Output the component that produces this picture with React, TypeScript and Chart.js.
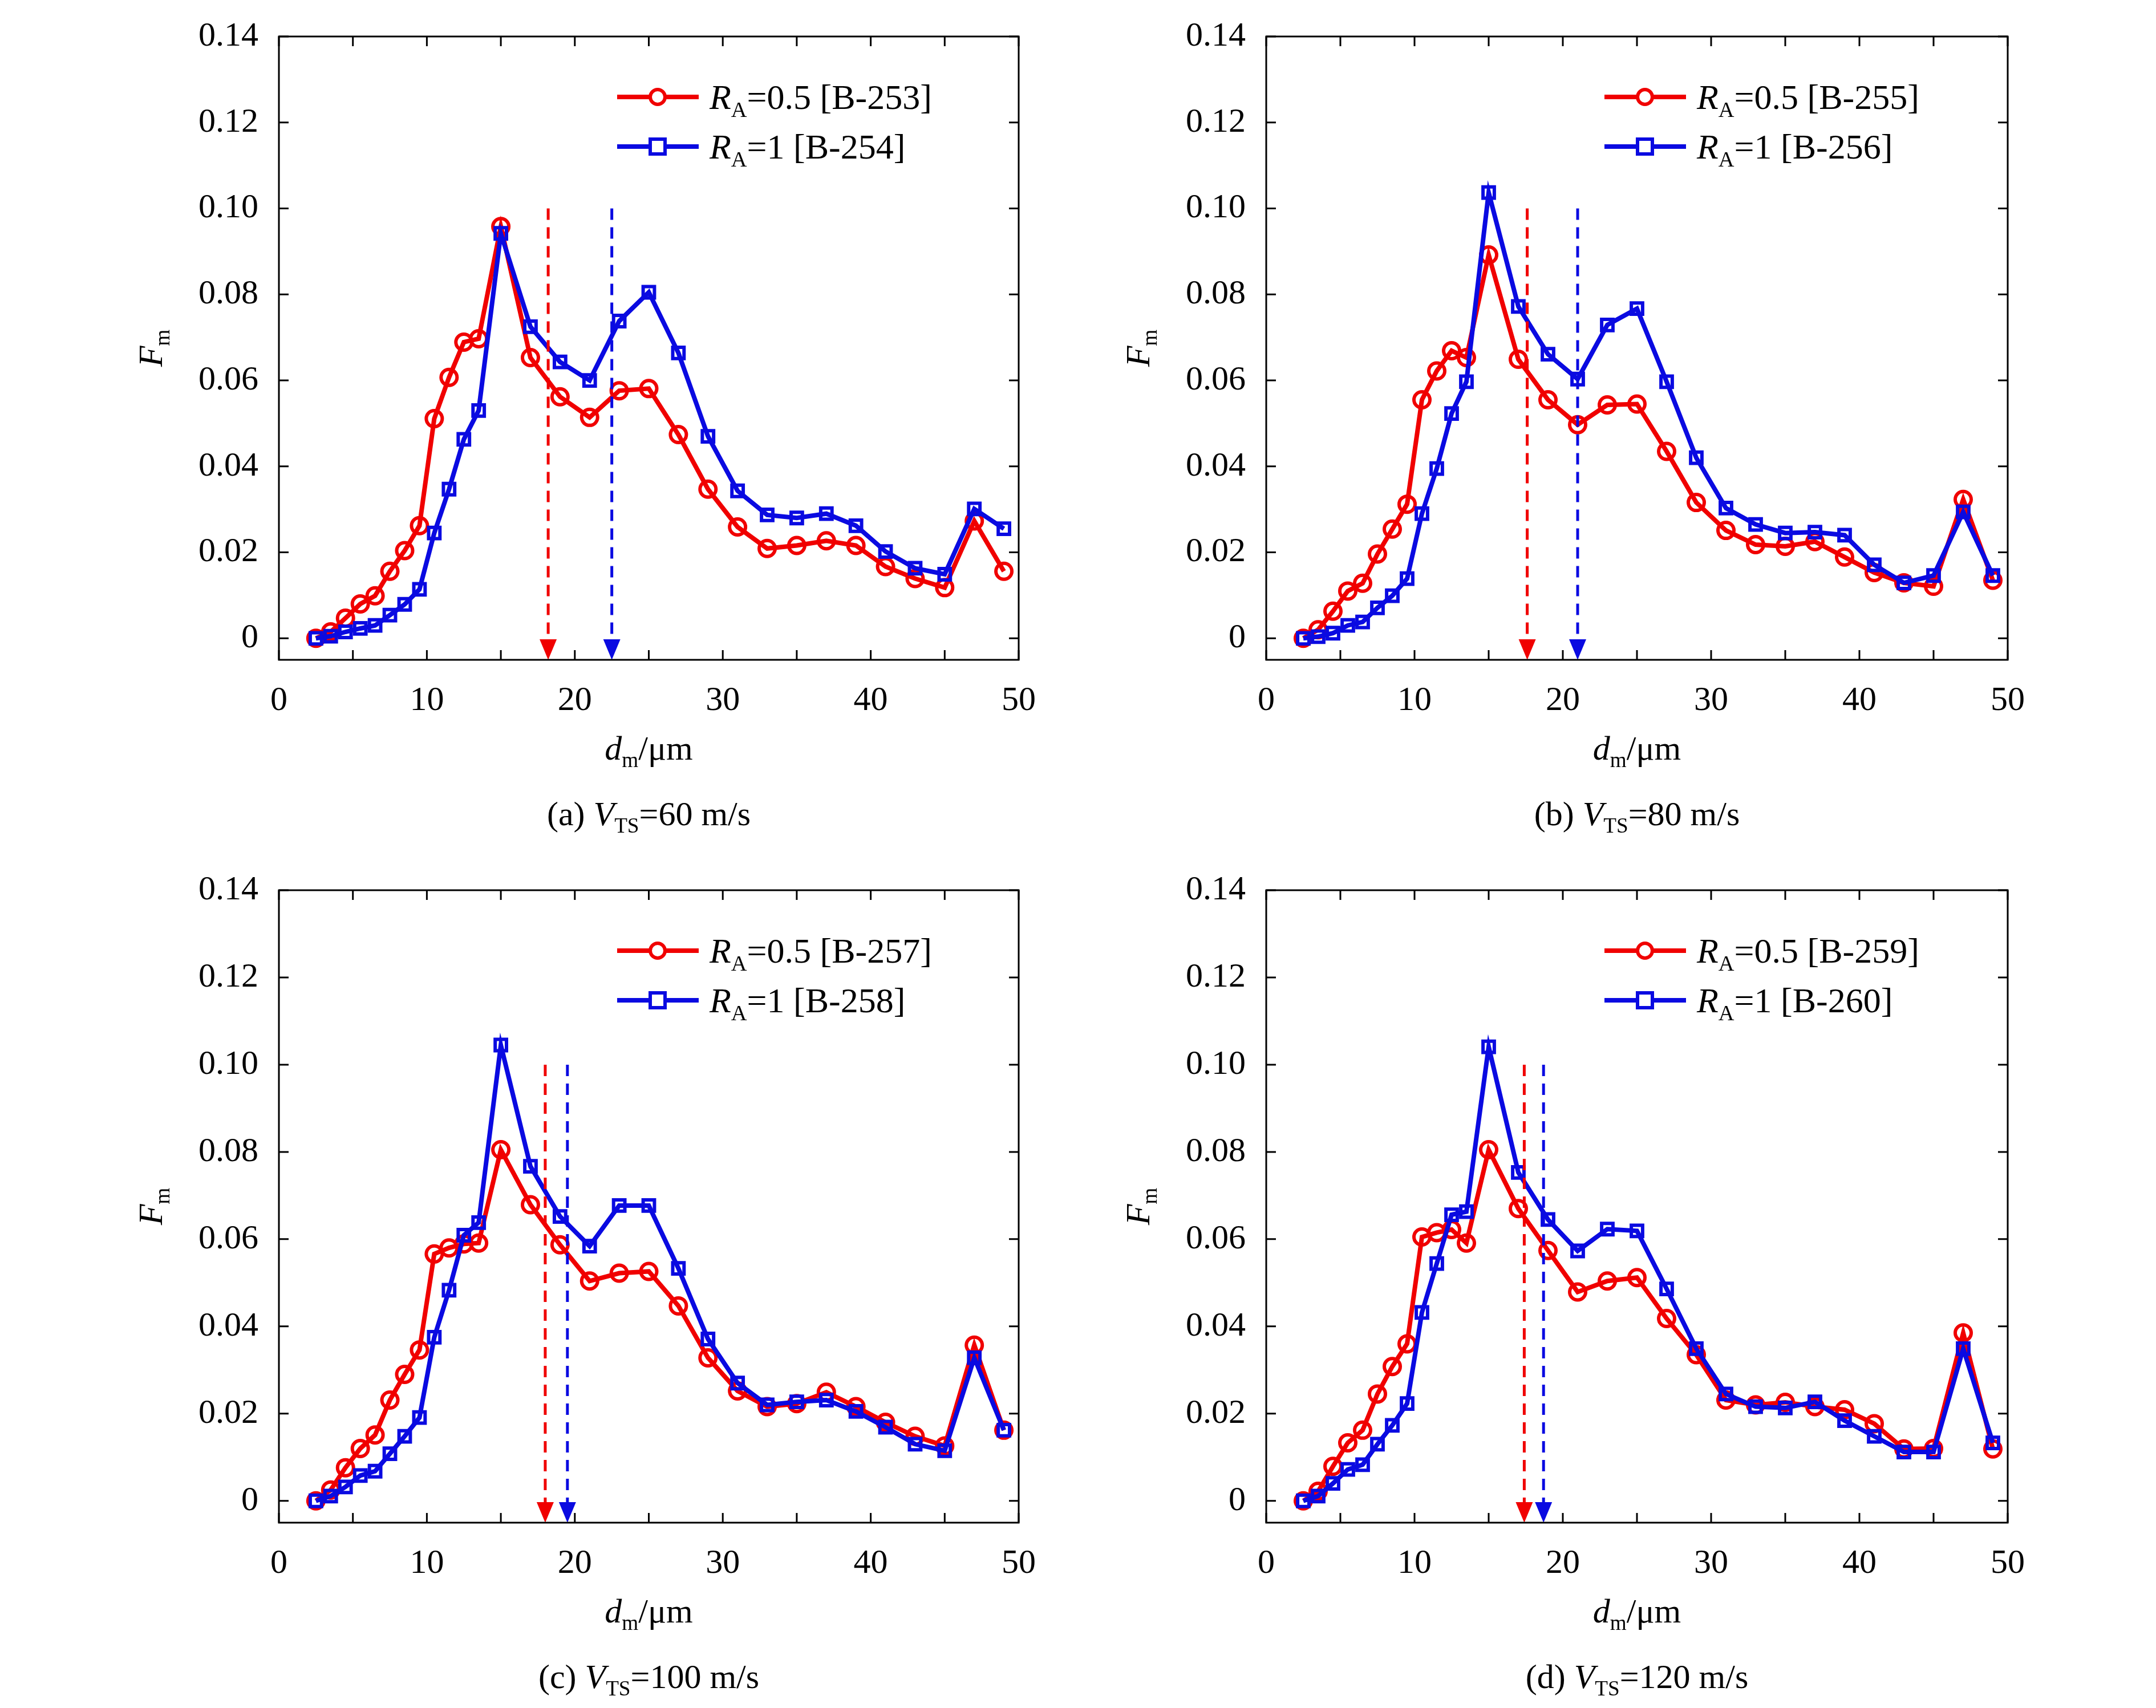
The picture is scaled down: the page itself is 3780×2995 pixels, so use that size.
import React, { useEffect, useRef } from "react";
import { Chart, registerables } from "chart.js";
Chart.register(...registerables);

const sizes = [2.5, 3.5, 4.5, 5.5, 6.5, 7.5, 8.5, 9.5, 10.5, 11.5, 12.5, 13.5, 15, 17, 19, 21, 23, 25, 27, 29, 31, 33, 35, 37, 39, 41, 43, 45, 47, 49];

const redA = [0, 0.0015, 0.0047, 0.008, 0.0099, 0.0156, 0.0204, 0.0262, 0.0511, 0.0607, 0.0689, 0.0697, 0.0958, 0.0653, 0.0562, 0.0514, 0.0576, 0.0581, 0.0474, 0.0347, 0.0259, 0.0209, 0.0216, 0.0227, 0.0216, 0.0167, 0.0139, 0.0118, 0.0273, 0.0156];
const blueA = [0, 0.0005, 0.0015, 0.0023, 0.003, 0.0054, 0.0079, 0.0114, 0.0245, 0.0347, 0.0463, 0.053, 0.0942, 0.0725, 0.0643, 0.06, 0.0738, 0.0805, 0.0664, 0.047, 0.0343, 0.0287, 0.028, 0.029, 0.0262, 0.0202, 0.0163, 0.0149, 0.0301, 0.0255];
const redB = [0, 0.002, 0.0063, 0.011, 0.0128, 0.0196, 0.0254, 0.0312, 0.0555, 0.0622, 0.0669, 0.0653, 0.0892, 0.0649, 0.0555, 0.0497, 0.0543, 0.0545, 0.0435, 0.0316, 0.0251, 0.0218, 0.0214, 0.0225, 0.0189, 0.0153, 0.0129, 0.0121, 0.0323, 0.0135];
const blueB = [0, 0.0004, 0.0012, 0.003, 0.0038, 0.0071, 0.0099, 0.0139, 0.029, 0.0395, 0.0523, 0.0597, 0.1037, 0.0772, 0.0661, 0.0603, 0.0729, 0.0767, 0.0597, 0.042, 0.0303, 0.0265, 0.0245, 0.0247, 0.024, 0.0171, 0.0129, 0.0146, 0.0294, 0.0146];
const redC = [0, 0.0025, 0.0076, 0.012, 0.0151, 0.0231, 0.029, 0.0346, 0.0566, 0.058, 0.0589, 0.0591, 0.0805, 0.0679, 0.0587, 0.0504, 0.0522, 0.0526, 0.0447, 0.0328, 0.0252, 0.0216, 0.0223, 0.0249, 0.0216, 0.018, 0.0148, 0.0126, 0.0357, 0.0162];
const blueC = [0, 0.0011, 0.0032, 0.0058, 0.0068, 0.0108, 0.0148, 0.0191, 0.0375, 0.0483, 0.0609, 0.0638, 0.1045, 0.0767, 0.0652, 0.0584, 0.0677, 0.0677, 0.0533, 0.0371, 0.027, 0.022, 0.0227, 0.0231, 0.0205, 0.0169, 0.013, 0.0115, 0.0328, 0.0162];
const redD = [0, 0.0022, 0.0079, 0.0133, 0.0162, 0.0245, 0.0308, 0.036, 0.0605, 0.0615, 0.0622, 0.0591, 0.0805, 0.067, 0.0574, 0.0479, 0.0504, 0.0512, 0.0418, 0.0335, 0.0231, 0.022, 0.0226, 0.0216, 0.0209, 0.0177, 0.0119, 0.012, 0.0385, 0.0119];
const blueD = [0, 0.0011, 0.004, 0.0072, 0.0083, 0.013, 0.0173, 0.0223, 0.0432, 0.0544, 0.0656, 0.0663, 0.1041, 0.0753, 0.0645, 0.0573, 0.0623, 0.0619, 0.0486, 0.0349, 0.0245, 0.0216, 0.0213, 0.0227, 0.0184, 0.0148, 0.0112, 0.0112, 0.0349, 0.0133];

const arrowsRed = [18.2, 17.6, 18.0, 17.4];
const arrowsBlue = [22.5, 21.0, 19.5, 18.7];
const speeds = ["60", "80", "100", "120"];
const letters = ["a", "b", "c", "d"];
const redLabels = ["=0.5 [B-253]", "=0.5 [B-255]", "=0.5 [B-257]", "=0.5 [B-259]"];
const blueLabels = ["=1 [B-254]", "=1 [B-256]", "=1 [B-258]", "=1 [B-260]"];
const xTicks = [0, 10, 20, 30, 40, 50];
const yTicks = [0, 0.02, 0.04, 0.06, 0.08, 0.1, 0.12, 0.14];

const RED = "rgb(240,0,0)";
const BLUE = "rgb(10,10,225)";
const FONT = "'Liberation Serif', 'Times New Roman', 'DejaVu Serif', serif";

type Seg = { t: string; it?: boolean; sub?: boolean };

function drawRich(ctx: CanvasRenderingContext2D, segs: Seg[], x: number, y: number, size: number, align: "left" | "center") {
  const fontFor = (s: Seg) => `${s.it ? "italic " : ""}${s.sub ? size * 0.62 : size}px ${FONT}`;
  let total = 0;
  for (const s of segs) { ctx.font = fontFor(s); total += ctx.measureText(s.t).width; }
  let cx = align === "center" ? x - total / 2 : x;
  ctx.textBaseline = "alphabetic";
  ctx.textAlign = "left";
  for (const s of segs) {
    ctx.font = fontFor(s);
    ctx.fillText(s.t, cx, y + (s.sub ? size * 0.22 : 0));
    cx += ctx.measureText(s.t).width;
  }
}

function Panel({ idx, left, top }: { idx: number; left: number; top: number }) {
  const ref = useRef<HTMLCanvasElement | null>(null);
  const reds = [redA, redB, redC, redD][idx];
  const blues = [blueA, blueB, blueC, blueD][idx];
  useEffect(() => {
    const W = 160, H = 100;
    const isRight = idx % 2 === 1;
    const isBottom = idx >= 2;
    const pad = {
      left: (isRight ? 330 : 489) - W,
      right: isRight ? 260 : 104,
      top: isBottom ? 21 : 7,
      bottom: (isBottom ? 324 : 340) - H,
    };
    const deco = {
      id: "deco",
      afterDatasetsDraw(chart: any) {
        const ctx = chart.ctx as CanvasRenderingContext2D;
        const { left: l, right: r, top: t, bottom: b } = chart.chartArea;
        const xs = chart.scales.x, ys = chart.scales.y;
        ctx.save();
        const arrow = (xv: number, col: string) => {
          const px = xs.getPixelForValue(xv);
          const y0 = ys.getPixelForValue(0.1);
          ctx.strokeStyle = col; ctx.fillStyle = col; ctx.lineWidth = 5;
          ctx.setLineDash([20, 13]);
          ctx.beginPath(); ctx.moveTo(px, y0); ctx.lineTo(px, b - 30); ctx.stroke();
          ctx.setLineDash([]);
          ctx.beginPath(); ctx.moveTo(px - 15, b - 36); ctx.lineTo(px + 15, b - 36); ctx.lineTo(px, b); ctx.closePath(); ctx.fill();
        };
        arrow(arrowsRed[idx], RED);
        arrow(arrowsBlue[idx], BLUE);
        ctx.strokeStyle = "#000"; ctx.lineWidth = 3;
        ctx.strokeRect(l, t, r - l, b - t);
        const tl = 17;
        ctx.beginPath();
        for (let v = 0; v <= 50; v += 5) {
          const px = xs.getPixelForValue(v);
          ctx.moveTo(px, b); ctx.lineTo(px, b - tl);
          ctx.moveTo(px, t); ctx.lineTo(px, t + tl);
        }
        for (const v of yTicks) {
          const py = ys.getPixelForValue(v);
          ctx.moveTo(l, py); ctx.lineTo(l + tl, py);
          ctx.moveTo(r, py); ctx.lineTo(r - tl, py);
        }
        ctx.stroke();
        const lx = l + 593;
        const rows: [string, string, string, number][] = [
          [RED, "circle", redLabels[idx], t + 106],
          [BLUE, "rect", blueLabels[idx], t + 193],
        ];
        for (const [col, st, lab, yy] of rows) {
          ctx.strokeStyle = col; ctx.lineWidth = 8;
          ctx.beginPath(); ctx.moveTo(lx, yy); ctx.lineTo(lx + 143, yy); ctx.stroke();
          ctx.lineWidth = 6; ctx.fillStyle = "#fff";
          ctx.beginPath();
          if (st === "circle") ctx.arc(lx + 71, yy, 13, 0, Math.PI * 2);
          else ctx.rect(lx + 71 - 13, yy - 13, 26, 26);
          ctx.fill(); ctx.stroke();
          ctx.fillStyle = "#000";
          drawRich(ctx, [{ t: "R", it: true }, { t: "A", sub: true }, { t: lab }], lx + 162, yy + 21, 62, "left");
        }
        ctx.fillStyle = "#000";
        const cxm = (l + r) / 2;
        drawRich(ctx, [{ t: "d", it: true }, { t: "m", sub: true }, { t: "/μm" }], cxm, b + 175, 60, "center");
        drawRich(ctx, [{ t: `(${letters[idx]}) ` }, { t: "V", it: true }, { t: "TS", sub: true }, { t: `=${speeds[idx]} m/s` }], cxm, b + 290, 60, "center");
        ctx.save();
        ctx.translate(l - 205, (t + b) / 2);
        ctx.rotate(-Math.PI / 2);
        drawRich(ctx, [{ t: "F", it: true }, { t: "m", sub: true }], 0, 0, 60, "center");
        ctx.restore();
        ctx.restore();
      },
    };
    const mk = (vals: number[]) => vals.map((v, i) => ({ x: sizes[i], y: v }));
    const chart = new Chart(ref.current as HTMLCanvasElement, {
      type: "line",
      data: {
        datasets: [
          { label: "red", data: mk(reds), borderColor: RED, pointBorderColor: RED, backgroundColor: "rgba(0,0,0,0)", pointBackgroundColor: "rgba(0,0,0,0)", pointStyle: "circle", pointRadius: 14, pointBorderWidth: 6, borderWidth: 8, order: 1 },
          { label: "blue", data: mk(blues), borderColor: BLUE, pointBorderColor: BLUE, backgroundColor: "rgba(0,0,0,0)", pointBackgroundColor: "rgba(0,0,0,0)", pointStyle: "rect", pointRadius: 14, pointBorderWidth: 6, borderWidth: 8, order: 0 },
        ],
      },
      options: {
        animation: false,
        responsive: false,
        devicePixelRatio: 1,
        layout: { padding: pad },
        plugins: { legend: { display: false }, tooltip: { enabled: false } },
        scales: {
          x: {
            type: "linear", min: 0, max: 50,
            afterBuildTicks: (s: any) => { s.ticks = xTicks.map((v) => ({ value: v })); },
            afterFit: (s: any) => { s.height = H; },
            grid: { display: false }, border: { display: false },
            ticks: { color: "#000", font: { family: FONT, size: 60 }, padding: 28, maxRotation: 0 },
          },
          y: {
            type: "linear", min: -0.005, max: 0.14,
            afterBuildTicks: (s: any) => { s.ticks = yTicks.map((v) => ({ value: v })); },
            afterFit: (s: any) => { s.width = W; },
            grid: { display: false }, border: { display: false },
            ticks: { color: "#000", font: { family: FONT, size: 60 }, padding: 28, callback: (v: any) => (Number(v) === 0 ? "0" : Number(v).toFixed(2)) },
          },
        },
      },
      plugins: [deco],
    } as any);
    return () => chart.destroy();
  }, [idx]);
  return <canvas ref={ref} width={1890} height={1497} style={{ position: "absolute", left, top, width: 1890, height: 1497 }} />;
}

export default function App() {
  return (
    <div style={{ position: "absolute", left: 0, top: 0, width: 3780, height: 2995, background: "#fff" }}>
      <Panel idx={0} left={0} top={0} />
      <Panel idx={1} left={1890} top={0} />
      <Panel idx={2} left={0} top={1497} />
      <Panel idx={3} left={1890} top={1497} />
    </div>
  );
}
